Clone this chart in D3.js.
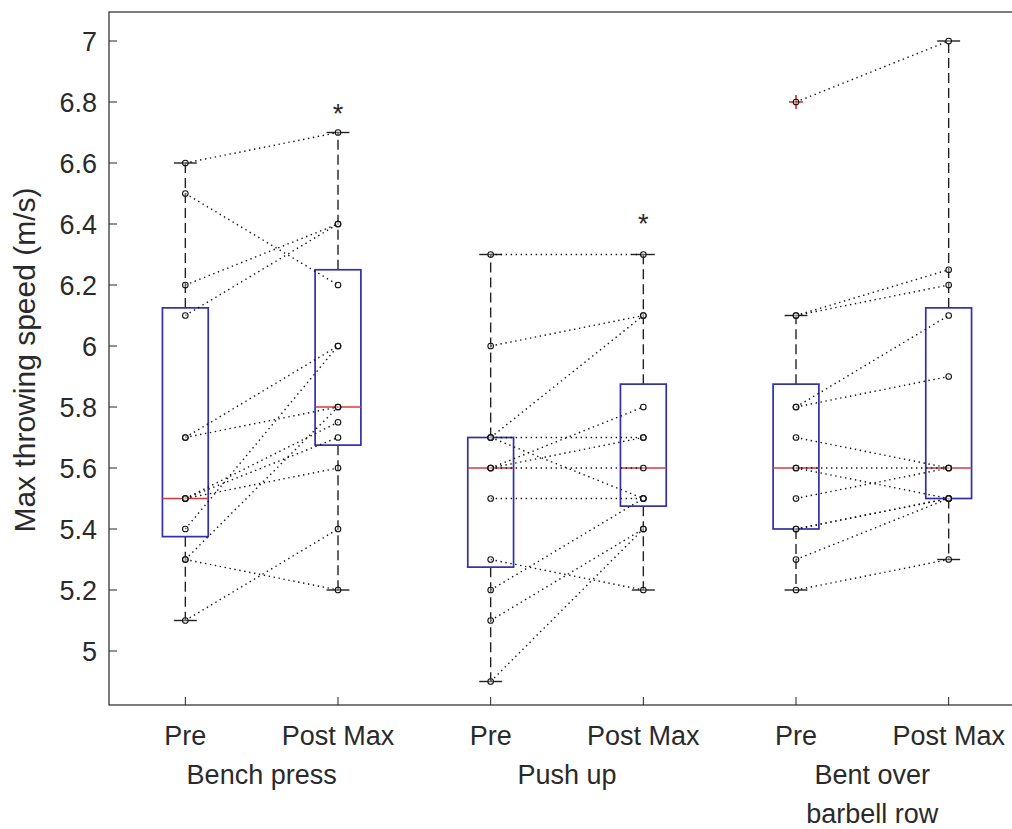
<!DOCTYPE html>
<html lang="en">
<head>
<meta charset="utf-8">
<title>Max throwing speed: pre vs post</title>
<script src="https://cdn.jsdelivr.net/npm/d3@7"></script>
<style>
  body { margin: 0; background: #fff; }
  svg { display: block; font-family: "Liberation Sans", Arial, Helvetica, sans-serif; }
  .tick-label { font-size: 27px; fill: #2a2a2a; }
  .axis-label { font-size: 30px; fill: #2a2a2a; }
  .pair { fill: none; stroke: #111; stroke-width: 1.4; stroke-dasharray: 1.4,3.6; }
  .whisker { stroke: #222; stroke-width: 1.4; stroke-dasharray: 10,5; }
  .cap { stroke: #222; stroke-width: 1.4; }
  .box { fill: none; stroke: #3030a8; stroke-width: 1.7; }
  .median { stroke: #d83a3a; stroke-width: 1.4; }
  .pt { fill: #fff; fill-opacity: 0.3; stroke: #111; stroke-width: 1.1; }
</style>
</head>
<body>
<svg width="1012" height="829"></svg>
<script>
// ---- data ----
var groups = ["Bench press", "Push up", "Bent over|barbell row"];
var conditions = ["Pre", "Post Max"];

// each index is one subject, pre -> post
var benchPre  = [6.6, 6.5, 6.2, 6.1, 5.7, 5.7, 5.5, 5.5, 5.5, 5.4, 5.3, 5.3, 5.1];
var benchPost = [6.7, 6.2, 6.4, 6.4, 6.0, 5.8, 5.75, 5.7, 5.6, 6.0, 5.2, 5.8, 5.4];

var pushPre   = [6.3, 6.0, 5.7, 5.7, 5.7, 5.6, 5.6, 5.6, 5.5, 5.3, 5.2, 5.1, 4.9];
var pushPost  = [6.3, 6.1, 6.1, 5.7, 5.5, 5.8, 5.7, 5.6, 5.5, 5.2, 5.5, 5.4, 5.4];

var rowPre    = [6.8, 6.1, 6.1, 5.8, 5.8, 5.7, 5.6, 5.6, 5.5, 5.4, 5.4, 5.3, 5.2];
var rowPost   = [7.0, 6.25, 6.2, 6.1, 5.9, 5.6, 5.6, 5.5, 5.6, 5.5, 5.5, 5.5, 5.3];

var series = [[benchPre, benchPost], [pushPre, pushPost], [rowPre, rowPost]];

var yTicks = [5, 5.2, 5.4, 5.6, 5.8, 6, 6.2, 6.4, 6.6, 6.8, 7];
// significance marks: box position and height
var starPos = [2, 4];
var starVal = [6.78, 6.42];

// ---- layout ----
var svg = d3.select("svg");
var frame = {left: 109, top: 12, bottom: 705, right: 1025};

var x = d3.scaleLinear().domain([0.5, 6.5]).range([frame.left, frame.right]);
var y = d3.scaleLinear().domain([5, 7]).range([651, 41]);

// matlab style percentile
function prc(s, p) {
  var n = s.length, pos = p * n + 0.5;
  if (pos <= 1) return s[0];
  if (pos >= n) return s[n - 1];
  var i = Math.floor(pos), f = pos - i;
  return s[i - 1] + f * (s[i] - s[i - 1]);
}

function stats(v) {
  var s = v.slice().sort(d3.ascending);
  var q1 = prc(s, 0.25), med = prc(s, 0.5), q3 = prc(s, 0.75), iqr = q3 - q1;
  var inside = s.filter(function(d) { return d >= q1 - 1.5 * iqr && d <= q3 + 1.5 * iqr; });
  return {
    q1: q1, med: med, q3: q3,
    lo: d3.min(inside), hi: d3.max(inside),
    out: s.filter(function(d) { return d < q1 - 1.5 * iqr || d > q3 + 1.5 * iqr; })
  };
}

// frame
svg.append("rect")
  .attr("x", frame.left).attr("y", frame.top)
  .attr("width", frame.right - frame.left).attr("height", frame.bottom - frame.top)
  .attr("fill", "none").attr("stroke", "#262626").attr("stroke-width", 1.2);

// y ticks
yTicks.forEach(function(t) {
  svg.append("line").attr("x1", frame.left).attr("x2", frame.left + 8)
    .attr("y1", y(t)).attr("y2", y(t)).attr("stroke", "#262626");
  svg.append("text").attr("class", "tick-label")
    .attr("x", frame.left - 12).attr("y", y(t)).attr("dy", "0.36em")
    .attr("text-anchor", "end").text(d3.format("")(t));
});

svg.append("text").attr("class", "axis-label")
  .attr("transform", "translate(35," + (y(6) + 14) + ") rotate(-90)")
  .attr("text-anchor", "middle").text("Max throwing speed (m/s)");

// x ticks + labels
d3.range(1, 7).forEach(function(p) {
  svg.append("line").attr("x1", x(p)).attr("x2", x(p))
    .attr("y1", frame.bottom).attr("y2", frame.bottom - 8).attr("stroke", "#262626");
  svg.append("text").attr("class", "tick-label")
    .attr("x", x(p)).attr("y", 745).attr("text-anchor", "middle")
    .text(conditions[(p - 1) % 2]);
});

groups.forEach(function(g, gi) {
  var t = svg.append("text").attr("class", "tick-label")
    .attr("x", x(gi * 2 + 1.5)).attr("y", 784).attr("text-anchor", "middle");
  g.split("|").forEach(function(line, li) {
    t.append("tspan").attr("x", x(gi * 2 + 1.5)).attr("dy", li ? 39 : 0).text(line);
  });
});

// boxes
var bw = 0.15, cw = 0.075;
series.forEach(function(pair, gi) {
  pair.forEach(function(vals, ci) {
    var p = gi * 2 + 1 + ci, s = stats(vals);
    var b = svg.append("g");
    b.append("line").attr("class", "whisker")
      .attr("x1", x(p)).attr("x2", x(p)).attr("y1", y(s.q3)).attr("y2", y(s.hi));
    b.append("line").attr("class", "whisker")
      .attr("x1", x(p)).attr("x2", x(p)).attr("y1", y(s.q1)).attr("y2", y(s.lo));
    [s.hi, s.lo].forEach(function(v) {
      b.append("line").attr("class", "cap")
        .attr("x1", x(p - cw)).attr("x2", x(p + cw)).attr("y1", y(v)).attr("y2", y(v));
    });
    b.append("rect").attr("class", "box")
      .attr("x", x(p - bw)).attr("width", x(p + bw) - x(p - bw))
      .attr("y", y(s.q3)).attr("height", y(s.q1) - y(s.q3));
    b.append("line").attr("class", "median")
      .attr("x1", x(p - bw)).attr("x2", x(p + bw)).attr("y1", y(s.med)).attr("y2", y(s.med));
    s.out.forEach(function(v) {
      b.append("path")
        .attr("d", "M" + (x(p) - 7) + "," + y(v) + "h14M" + x(p) + "," + (y(v) - 7) + "v14")
        .attr("stroke", "#d42a2a").attr("stroke-width", 1.6);
    });
  });
});

// paired lines and points
series.forEach(function(pair, gi) {
  var p0 = gi * 2 + 1, p1 = gi * 2 + 2;
  svg.selectAll(null).data(d3.zip(pair[0], pair[1])).enter()
    .append("line").attr("class", "pair")
    .attr("x1", x(p0)).attr("x2", x(p1))
    .attr("y1", function(d) { return y(d[0]); })
    .attr("y2", function(d) { return y(d[1]); });
  pair.forEach(function(vals, ci) {
    svg.selectAll(null).data(vals).enter()
      .append("circle").attr("class", "pt")
      .attr("cx", x(p0 + ci)).attr("cy", function(d) { return y(d); }).attr("r", 2.8);
  });
});

// asterisks
starPos.forEach(function(p, i) {
  svg.append("text").attr("class", "tick-label")
    .attr("x", x(p)).attr("y", y(starVal[i]) + 15).attr("text-anchor", "middle").text("*");
});
</script>
</body>
</html>
